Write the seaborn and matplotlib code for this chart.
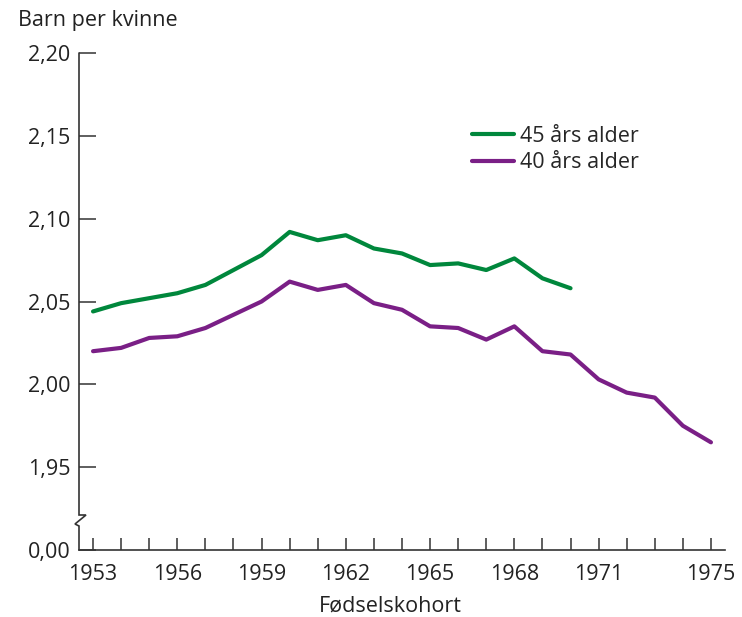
import matplotlib
matplotlib.use("Agg")
import matplotlib.pyplot as plt
import seaborn as sns
import pandas as pd
from matplotlib.lines import Line2D

years_45 = list(range(1953, 1971))
values_45 = [2.044, 2.049, 2.052, 2.055, 2.060, 2.069, 2.078, 2.092, 2.087, 2.090,
             2.082, 2.079, 2.072, 2.073, 2.069, 2.076, 2.064, 2.058]
years_40 = list(range(1953, 1976))
values_40 = [2.020, 2.022, 2.028, 2.029, 2.034, 2.042, 2.050, 2.062, 2.057, 2.060,
             2.049, 2.045, 2.035, 2.034, 2.027, 2.035, 2.020, 2.018, 2.003, 1.995,
             1.992, 1.975, 1.965]
series_labels = ["45 års alder", "40 års alder"]
colors = ["#00873c", "#7a1f86"]
y_ticks = [1.90, 1.95, 2.00, 2.05, 2.10, 2.15, 2.20]
y_ticklabels = ["0,00", "1,95", "2,00", "2,05", "2,10", "2,15", "2,20"]
x_labeled = [1953, 1956, 1959, 1962, 1965, 1968, 1971, 1975]

df = pd.concat([
    pd.DataFrame({"år": years_45, "verdi": values_45, "serie": series_labels[0]}),
    pd.DataFrame({"år": years_40, "verdi": values_40, "serie": series_labels[1]}),
])

sns.set_style("white")
plt.rcParams["font.family"] = ["Open Sans", "DejaVu Sans"]
fs = 15.5
axc = "#333333"

fig = plt.figure(figsize=(7.42, 6.17), dpi=100)
ax = fig.add_axes([79/742, 1-550/617, (725-79)/742, (550-53)/617])

sns.lineplot(data=df, x="år", y="verdi", hue="serie", hue_order=series_labels,
             palette=colors, linewidth=3.0, ax=ax, legend=False)

ax.set_xlim(1952.5, 1975.5)
ax.set_ylim(1.90, 2.20)
ax.set_yticks(y_ticks)
ax.set_yticklabels(y_ticklabels)
ax.set_xticks(years_40)
ax.set_xticklabels([str(y) if y in x_labeled else "" for y in years_40])
ax.set_xlabel("")
ax.set_ylabel("")

for s in ["top", "right", "left"]:
    ax.spines[s].set_visible(False)
ax.spines["bottom"].set_color(axc)
ax.spines["bottom"].set_linewidth(1.2)

ax.tick_params(axis="y", direction="in", length=12, width=1.1, color=axc,
               labelsize=fs, labelcolor="#222222", pad=6, left=True)
ax.tick_params(axis="x", direction="in", length=9, width=1.1, color=axc,
               labelsize=fs, labelcolor="#222222", pad=10, bottom=True)

# broken left spine with zigzag
tr = ax.transAxes
h = 497.0
wpx = 646.0
def px(dx, dy_from_bottom):
    return (dx / wpx, dy_from_bottom / h)
pts = [px(0, h), px(0, 35), px(7, 35), px(-4, 26), px(0, 24), px(0, 0)]
ax.add_line(Line2D([p[0] for p in pts], [p[1] for p in pts], transform=tr,
                   color=axc, lw=1.2, clip_on=False, solid_joinstyle="miter"))

handles = [Line2D([], [], color=c, lw=3.0) for c in colors]
ax.legend(handles, series_labels, loc="upper left", bbox_to_anchor=(472/742, 1-126/617),
          bbox_transform=fig.transFigure, frameon=False, fontsize=fs,
          handlelength=1.95, handletextpad=0.3, labelspacing=0.25, borderpad=0,
          borderaxespad=0)

fig.text(18/742, 1-10/617, "Barn per kvinne", fontsize=fs, color="#222222",
         ha="left", va="top")
fig.text(390/742, 1-606/617, "Fødselskohort", fontsize=fs, color="#222222",
         ha="center", va="center")

fig.savefig("out.png", dpi=100)
